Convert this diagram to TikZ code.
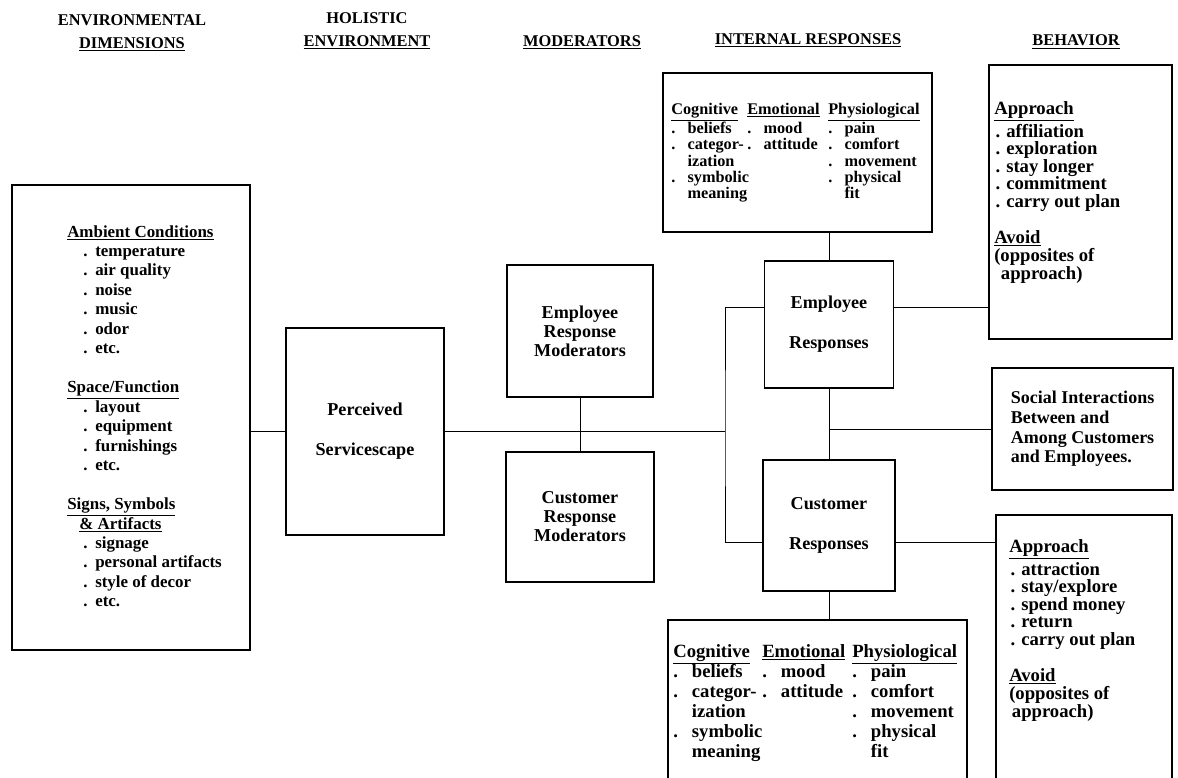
\documentclass[tikz,border=0pt]{standalone}
\usepackage{fontspec}
\setmainfont{Liberation Serif}
\usetikzlibrary{positioning}

% bullet lines for the different boxes
\newcommand\litem[1]{\hspace*{12pt}\makebox[9pt][l]{.}#1}
\newcommand\bitem[1]{\hspace*{1pt}\makebox[8pt][l]{.}#1}
\newcommand\iitem[1]{\makebox[1em][l]{.}#1}
\newcommand\icont[1]{\hspace*{1em}#1}

% type sizes (fixed leading, no extra lineskip under underlines)
\newcommand\fixlead{\lineskiplimit=-20pt\lineskip=0pt}
\newcommand\headfont{\fontsize{12.3}{17}\bfseries\selectfont\fixlead}
\newcommand\envfont{\fontsize{12.7}{14.6}\bfseries\selectfont\fixlead}
\newcommand\boxfont{\fontsize{13.6}{14.3}\bfseries\selectfont\fixlead}
\newcommand\behfont{\fontsize{14}{13.2}\bfseries\selectfont\fixlead}
\newcommand\topfont{\fontsize{12.2}{12.2}\bfseries\selectfont\fixlead}
\newcommand\botfont{\fontsize{14}{15}\bfseries\selectfont\fixlead}

\begin{document}
\begin{tikzpicture}[x=0.75pt,y=-0.75pt,
    box/.style={draw,line width=0.8pt,inner sep=0pt},
    txt/.style={inner sep=0pt,anchor=north west,align=left},
    head/.style={inner sep=0pt,align=center,font=\headfont},
    link/.style={line width=0.7pt}]
    \useasboundingbox (0,0) rectangle (1178,778);
    \clip (0,0) rectangle (1178,778);

	%% column headings
	\node[head] (hdim) at (132,33) {ENVIRONMENTAL\\\underline{DIMENSIONS}};
	\node[head] (hhol) at (367,31) {HOLISTIC\\\underline{ENVIRONMENT}};
	\node[head] (hmod) at (582,42) {\underline{MODERATORS}};
	\node[head] (hint) at (808,40) {\underline{INTERNAL RESPONSES}};
	\node[head] (hbeh) at (1076,42) {\underline{BEHAVIOR}};

	%% boxes
	\node[box,minimum width=178.5pt,minimum height=348.75pt] (env) at (131,417.5) {};
	\node[box,minimum width=118.5pt,minimum height=155.25pt,font=\boxfont,align=center]
	   (perc) at (365,431.5) {Perceived\\[15.7pt]Servicescape};
	\node[box,minimum width=109.5pt,minimum height=99pt,font=\boxfont,align=center]
	   (emod) at (580,331) {Employee\\Response\\Moderators};
	\node[box,minimum width=111pt,minimum height=97.5pt,font=\boxfont,align=center]
	   (cmod) at (580,517) {Customer\\Response\\Moderators};
	\node[box,minimum width=96.75pt,minimum height=95.25pt,font=\boxfont,align=center]
	   (eresp) at (829,324.5) {Employee\\[15.7pt]Responses};
	\node[box,minimum width=99pt,minimum height=98.25pt,font=\boxfont,align=center]
	   (cresp) at (829,525.5) {Customer\\[15.7pt]Responses};
	\node[box,minimum width=201.75pt,minimum height=119.25pt] (itop) at (797.5,152.5) {};
	\node[box,minimum width=224.25pt,minimum height=135pt] (ibot) at (817.5,710) {};
	\node[box,minimum width=137.25pt,minimum height=205.5pt] (beh1) at (1080.5,202) {};
	\node[box,minimum width=135.75pt,minimum height=91.5pt,font=\fontsize{13.5}{14.8}\bfseries\selectfont,align=left]
	   (social) at (1082.5,429) {Social Interactions\\Between and\\Among Customers\\and Employees.};
	\node[box,minimum width=132pt,minimum height=213.75pt] (beh2) at (1084,657.5) {};

	%% box contents
	\node[txt,font=\envfont] (envtxt) at (67,225) {\underline{Ambient Conditions}\\
	   \litem{temperature}\\ \litem{air quality}\\ \litem{noise}\\ \litem{music}\\
	   \litem{odor}\\ \litem{etc.}\\[14.6pt]
	   \underline{Space/Function}\\ \litem{layout}\\ \litem{equipment}\\
	   \litem{furnishings}\\ \litem{etc.}\\[14.6pt]
	   \underline{Signs, Symbols}\\ \hspace*{9pt}\underline{\& Artifacts}\\
	   \litem{signage}\\ \litem{personal artifacts}\\ \litem{style of decor}\\ \litem{etc.}};

	\node[txt,font=\topfont] (tcog) at (671,103) {\underline{Cognitive}\\[2pt] \iitem{beliefs}\\
	   \iitem{categor-}\\ \icont{ization}\\ \iitem{symbolic}\\ \icont{meaning}};
	\node[txt,font=\topfont] (temo) at (747,103) {\underline{Emotional}\\[2pt] \iitem{mood}\\ \iitem{attitude}};
	\node[txt,font=\topfont] (tphy) at (828,103) {\underline{Physiological}\\[2pt] \iitem{pain}\\
	   \iitem{comfort}\\ \iitem{movement}\\ \iitem{physical}\\ \icont{fit}};

	\node[txt,font=\botfont] (bcog) at (673,644) {\underline{Cognitive}\\ \iitem{beliefs}\\
	   \iitem{categor-}\\ \icont{ization}\\ \iitem{symbolic}\\ \icont{meaning}};
	\node[txt,font=\botfont] (bemo) at (762,644) {\underline{Emotional}\\ \iitem{mood}\\ \iitem{attitude}};
	\node[txt,font=\botfont] (bphy) at (852,644) {\underline{Physiological}\\ \iitem{pain}\\
	   \iitem{comfort}\\ \iitem{movement}\\ \iitem{physical}\\ \icont{fit}};

	\node[txt,font=\behfont] (b1txt) at (994,101) {\underline{Approach}\\[4pt] \bitem{affiliation}\\
	   \bitem{exploration}\\ \bitem{stay longer}\\ \bitem{commitment}\\
	   \bitem{carry out plan}\\[13.4pt] \underline{Avoid}\\[1pt] (opposites of\\ \hspace*{5pt}approach)};
	\node[txt,font=\behfont] (b2txt) at (1009,539) {\underline{Approach}\\[4pt] \bitem{attraction}\\
	   \bitem{stay/explore}\\ \bitem{spend money}\\ \bitem{return}\\
	   \bitem{carry out plan}\\[13.4pt] \underline{Avoid}\\[1pt] (opposites of\\ \hspace*{2pt}approach)};

	%% connectors
	\coordinate (brk) at (725,431.5);
	\coordinate (ein) at ([yshift=13pt]eresp.west);
	\coordinate (cin) at ([yshift=-13pt]cresp.west);
	\coordinate (eout) at ([yshift=13pt]eresp.east);
	\coordinate (cout) at ([yshift=-13pt]cresp.east);

	\draw[link] (perc.west -| env.east) -- (perc.west);
	\draw[link] (perc.east) -- (brk);
	\draw[link] (emod.south) -- (emod.south |- cmod.north);
	\draw[link] (ein) -| (brk) |- (cin);
	\draw[link] (eresp.north) -- (eresp.north |- itop.south);
	\draw[link] (eresp.south) -- (cresp.north);
	\draw[link] (cresp.south) -- (cresp.south |- ibot.north);
	\draw[link] (social.west) -- (social.west -| eresp.south);
	\draw[link] (eout) -- (eout -| beh1.west);
	\draw[link] (cout) -- (cout -| beh2.west);
\end{tikzpicture}
\end{document}
